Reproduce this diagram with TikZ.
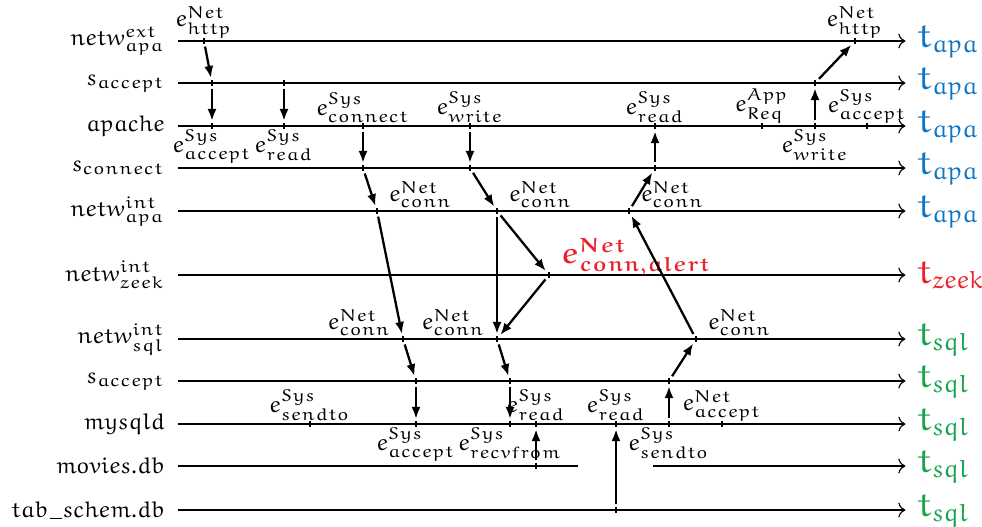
\documentclass[tikz,border=0pt]{standalone}
\usepackage{amsmath}
\usepackage{amssymb}
\usepackage{tikz}
\usetikzlibrary{arrows.meta}

% Euler letters in math
\DeclareSymbolFont{letters}{U}{eur}{m}{n}
\DeclareMathAlphabet{\mathbeu}{U}{eur}{b}{n}
% short underscore for file names
\newcommand{\usc}{\mkern1mu\rule[-0.6pt]{4.2pt}{0.4pt}\mkern1mu}

\definecolor{apablue}{RGB}{16,118,196}
\definecolor{zeekred}{RGB}{236,32,42}
\definecolor{sqlgreen}{RGB}{24,164,78}

% event on a timeline: tick, name and label
\newcommand{\evt}[5]{%
  \coordinate (#1) at (#2,#3);
  \draw[tickmark] (#1) ++(0,-3) -- ++(0,6);
  \node[evlabel,#4] (#1-l) at (#1) {#5};}
% bare tick without label
\newcommand{\tck}[3]{%
  \coordinate (#1) at (#2,#3);
  \draw[tickmark] (#1) ++(0,-3) -- ++(0,6);}

\begin{document}
\begin{tikzpicture}[x=0.35pt,y=-0.35pt,
    every node/.style={font=\fontsize{8}{10}\selectfont},
    proc/.style={anchor=east,inner sep=1pt},
    clock/.style={anchor=west,inner sep=1pt,font=\fontsize{12.5}{14}\selectfont},
    timeline/.style={->,thin,shorten <=3.5pt,shorten >=3pt},
    tickmark/.style={thin},
    evlabel/.style={inner sep=1pt},
    msg/.style={-{Latex[length=4.2pt,width=3.2pt]},thick,
                shorten <=2pt,shorten >=1.8pt}]
  \useasboundingbox (0,0) rectangle (982,526);

  % processes, files and sockets with their clocks
  \foreach \n/\y/\lab/\col/\clk in {
      ext/41/{netw^{ext}_{apa}}/apablue/apa,
      sacc/83/{s_{accept}}/apablue/apa,
      apache/126/{apache}/apablue/apa,
      sconn/168/{s_{connect}}/apablue/apa,
      intapa/211/{netw^{int}_{apa}}/apablue/apa,
      zeek/275/{netw^{int}_{zeek}}/zeekred/zeek,
      intsql/339/{netw^{int}_{sql}}/sqlgreen/sql,
      saccq/381/{s_{accept}}/sqlgreen/sql,
      mysqld/424/{mysqld}/sqlgreen/sql,
      movies/466/{movies.db}/sqlgreen/sql,
      tabschem/510/{tab\usc schem.db}/sqlgreen/sql}
  {
    \node[proc] (\n) at (168,\y) {$\lab$};
    \node[clock,text=\col] (\n-t) at (914,\y) {$t_{\clk}$};
  }
  \foreach \n in {ext,sacc,apache,sconn,intapa,zeek,intsql,saccq,mysqld,tabschem}
    \draw[timeline] (\n) -- (\n-t);
  % movies.db is closed for a while
  \coordinate (gapl) at (578,466);
  \coordinate (gapr) at (653,466);
  \draw[timeline,-,shorten >=0pt] (movies) -- (gapl);
  \draw[timeline,shorten <=0pt] (gapr) -- (movies-t);

  % events
  \evt{h1}{204}{41}{above}{$e^{Net}_{http}$}
  \evt{h2}{855}{41}{above}{$e^{Net}_{http}$}
  \tck{a1}{212}{83}
  \tck{a2}{284}{83}
  \tck{a3}{815}{83}
  \evt{p1}{212}{126}{below}{$e^{Sys}_{accept}$}
  \evt{p2}{284}{126}{below}{$e^{Sys}_{read}$}
  \evt{p3}{363}{126}{above}{$e^{Sys}_{connect}$}
  \evt{p4}{470}{126}{above}{$e^{Sys}_{write}$}
  \evt{p5}{655}{126}{above}{$e^{Sys}_{read}$}
  \evt{p6}{762}{126}{above}{$e^{App}_{Req}$}
  \evt{p7}{815}{126}{below}{$e^{Sys}_{write}$}
  \evt{p8}{867}{126}{above}{$e^{Sys}_{accept}$}
  \tck{c1}{363}{168}
  \tck{c2}{470}{168}
  \tck{c3}{655}{168}
  \evt{i1}{377}{211}{above right,xshift=3pt}{$e^{Net}_{conn}$}
  \evt{i2}{497}{211}{above right,xshift=3pt}{$e^{Net}_{conn}$}
  \evt{i3}{629}{211}{above right,xshift=3pt}{$e^{Net}_{conn}$}
  \evt{z1}{549}{275}{above right,xshift=3pt,text=zeekred,font=\normalsize}{$\mathbeu{e}^{\mathbeu{Net}}_{\mathbeu{conn},\mathbeu{alert}}$}
  \evt{q1}{403}{339}{above left,xshift=-3pt}{$e^{Net}_{conn}$}
  \evt{q2}{497}{339}{above left,xshift=-3pt}{$e^{Net}_{conn}$}
  \evt{q3}{696}{339}{above right,xshift=3pt}{$e^{Net}_{conn}$}
  \tck{s1}{416}{381}
  \tck{s2}{510}{381}
  \tck{s3}{669}{381}
  \evt{m1}{310}{424}{above}{$e^{Sys}_{sendto}$}
  \evt{m2}{416}{424}{below}{$e^{Sys}_{accept}$}
  \evt{m3}{510}{424}{below}{$e^{Sys}_{recvfrom}$}
  \evt{m4}{536}{424}{above}{$e^{Sys}_{read}$}
  \evt{m5}{616}{424}{above}{$e^{Sys}_{read}$}
  \evt{m6}{669}{424}{below}{$e^{Sys}_{sendto}$}
  \evt{m7}{722}{424}{above}{$e^{Net}_{accept}$}
  \tck{d1}{536}{466}
  \tck{b1}{616}{510}

  % information flow
  \path[msg] (h1) edge (a1)
             (a1) edge (p1)
             (a2) edge (p2)
             (p7) edge (a3)
             (a3) edge (h2)
             (p3) edge (c1)
             (p4) edge (c2)
             (c3) edge (p5)
             (c1) edge (i1)
             (c2) edge (i2)
             (i3) edge (c3)
             (i2) edge (z1)
             (z1) edge (q2)
             (i2) edge (q2)
             (i1) edge (q1)
             (q3) edge (i3)
             (q1) edge (s1)
             (q2) edge (s2)
             (s3) edge (q3)
             (s1) edge (m2)
             (s2) edge (m3)
             (m6) edge (s3)
             (d1) edge (m4)
             (b1) edge (m5);
\end{tikzpicture}
\end{document}
